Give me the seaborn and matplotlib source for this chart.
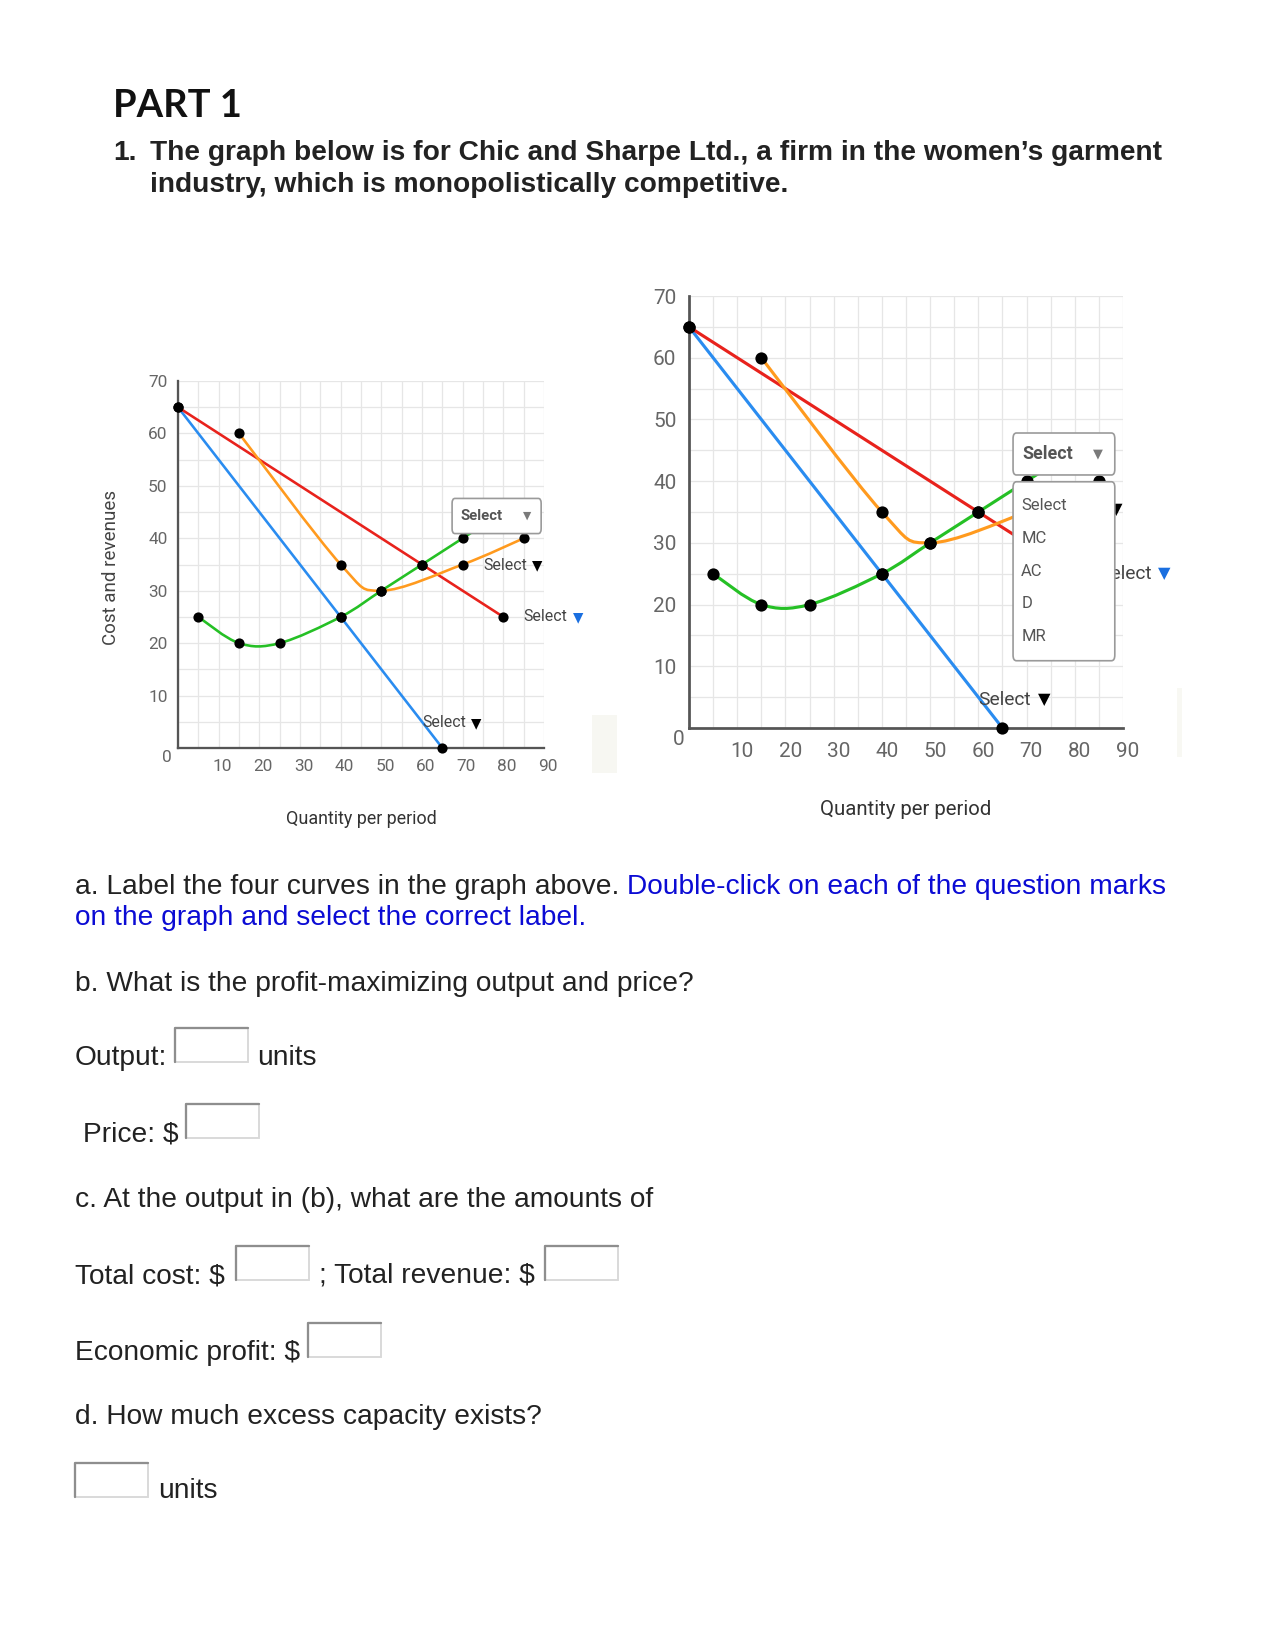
import numpy as np
import pandas as pd
import matplotlib
matplotlib.use('Agg')
import matplotlib.pyplot as plt
import seaborn as sns
from matplotlib.patches import FancyBboxPatch, Rectangle, PathPatch
from matplotlib.path import Path
from matplotlib.lines import Line2D
from matplotlib.transforms import ScaledTranslation

# points: quantity per period vs cost / revenue
d_q = [0, 60, 80]
d_p = [65, 35, 25]
mr_q = [0, 40, 65]
mr_p = [65, 25, 0]
ac_q = [15, 40, 50, 70, 85]
ac_c = [60, 35, 30, 35, 40]
mc_q = [5, 15, 25, 40, 50, 60, 70, 80]
mc_c = [25, 20, 20, 25, 30, 35, 40, 45]
y_ticks = [10, 20, 30, 40, 50, 60, 70]
x_ticks = [10, 20, 30, 40, 50, 60, 70, 80, 90]
menu_items = ['Select', 'MC', 'AC', 'D', 'MR']

RED = '#e8221c'
BLUE = '#2a8cf0'
ORANGE = '#ff9a1e'
GREEN = '#25c025'
TXT = '#222222'
LINK = '#0b0bd4'

W, H = 1275, 1650

sns.set_theme(style='white')
plt.rcParams['font.family'] = ['Roboto', 'DejaVu Sans']

fig = plt.figure(figsize=(8.5, 11), dpi=150)


def smooth_path(xs, ys):
    # catmull-rom through the read points, as bezier segments
    pts = np.column_stack([xs, ys]).astype(float)
    n = len(pts)
    verts = [pts[0]]
    codes = [Path.MOVETO]
    for i in range(n - 1):
        p0 = pts[i - 1] if i > 0 else pts[i]
        p1, p2 = pts[i], pts[i + 1]
        p3 = pts[i + 2] if i + 2 < n else pts[i + 1]
        verts += [p1 + (p2 - p0) / 6, p2 - (p3 - p1) / 6, p2]
        codes += [Path.CURVE4] * 3
    return Path(verts, codes)


def label(ax, x, y, fs, tri_color='black'):
    t = ax.text(x, y, 'Select', fontsize=fs, color='#444444', va='center', ha='left', zorder=8, clip_on=False)
    ax.annotate('\u25bc', xy=(1, 0.5), xycoords=t, xytext=(fs * 0.35, 0), textcoords='offset points',
                fontsize=fs * 0.85, color=tri_color, va='center', ha='left', zorder=8,
                family=['DejaVu Sans'])


def draw_chart(ax, k, box, lab_y, menu=None):
    fs = 8.3 * k
    lw = 1.25 * k
    ax.set_xlim(0, 90)
    ax.set_ylim(0, 70)
    ax.set_xticks(np.arange(0, 91, 5), minor=True)
    ax.set_yticks(np.arange(0, 71, 5), minor=True)
    ax.grid(True, which='both', color='#e6e6e6', lw=0.6, zorder=0)
    ax.set_axisbelow(True)
    ax.set_xticks(x_ticks)
    ax.set_yticks(y_ticks)
    ax.set_xticklabels([str(v) for v in x_ticks])
    ax.set_yticklabels([str(v) for v in y_ticks])
    ax.tick_params(length=0, labelsize=fs, labelcolor='#666666', pad=5 * k)
    ax.tick_params(axis='x', pad=4.5 * k + (1.5 if k > 1.1 else 0.6))
    shift = ScaledTranslation((1.8 if k < 1.1 else 2.3) / 72, 0, fig.dpi_scale_trans)
    for lab in ax.get_xticklabels():
        lab.set_transform(lab.get_transform() + shift)
    for s in ['top', 'right']:
        ax.spines[s].set_visible(False)
    for s in ['left', 'bottom']:
        ax.spines[s].set_color('#555555')
        ax.spines[s].set_linewidth(1.1 * k)
        ax.spines[s].set_zorder(3)
    if k < 1.1:
        zoff = (-5.5, -4.6)
    else:
        zoff = (-5.0, -5.6)
    ax.annotate('0', xy=(0, 0), xytext=zoff, textcoords='offset points',
                fontsize=fs, color='#666666', ha='center', va='center', annotation_clip=False)

    sns.lineplot(x=mr_q, y=mr_p, ax=ax, color=BLUE, lw=lw, zorder=4)
    sns.lineplot(x=d_q, y=d_p, ax=ax, color=RED, lw=lw, zorder=4)
    ax.add_patch(PathPatch(smooth_path(ac_q, ac_c), fill=False, ec=ORANGE, lw=lw, zorder=4))
    ax.add_patch(PathPatch(smooth_path(mc_q, mc_c), fill=False, ec=GREEN, lw=lw, zorder=4))

    dots = pd.DataFrame({'q': d_q + mr_q + ac_q + mc_q, 'v': d_p + mr_p + ac_c + mc_c})
    sns.scatterplot(data=dots, x='q', y='v', ax=ax, color='black', s=24 * k * k, linewidth=0,
                    zorder=5, clip_on=False)
    ax.set_xlabel('')
    ax.set_ylabel('')

    # curve labels
    lfs = fs * 0.92
    label(ax, 60.0, lab_y[0], lfs)
    label(ax, 75.0, lab_y[1], lfs)
    label(ax, 85.0, lab_y[2], lfs, tri_color='#1a6fe0')

    # dropdown box on MC
    bx0, by0, bx1, by1 = box
    ax.add_patch(FancyBboxPatch((bx0, by0), bx1 - bx0, by1 - by0,
                                boxstyle='round,pad=0,rounding_size=0.7',
                                fc='white', ec='#9a9a9a', lw=0.8, zorder=9, clip_on=False,
                                mutation_aspect=1.3))
    ax.text(bx0 + 2.0, (by0 + by1) / 2, 'Select', fontsize=fs * 0.86, fontweight='bold',
            color='#555555', va='center', ha='left', zorder=10)
    ax.text(bx1 - 3.5, (by0 + by1) / 2, '\u25bc', fontsize=fs * 0.62, color='#7a7a7a',
            va='center', ha='center', zorder=10, family=['DejaVu Sans'])

    if menu is not None:
        mx0, my0, mx1, my1 = menu
        ax.add_patch(FancyBboxPatch((mx0, my0), mx1 - mx0, my1 - my0,
                                    boxstyle='round,pad=0,rounding_size=0.7',
                                    fc='white', ec='#9a9a9a', lw=0.8, zorder=9, clip_on=False,
                                    mutation_aspect=1.3))
        edge = 3.9
        step = (my1 - my0 - 2 * edge) / (len(menu_items) - 1)
        for i, item in enumerate(menu_items):
            ax.text(mx0 + 1.7, my1 - edge - step * i, item, fontsize=fs * 0.8,
                    color='#555555', va='center', ha='left', zorder=10)


# left chart
ax1 = fig.add_axes([178 / W, 1 - 748 / H, 366 / W, 367 / H])
draw_chart(ax1, 1.0, (67.4, 40.9, 89.3, 47.6), (4.8, 34.8, 25.0))
ax1.set_ylabel('Cost and revenues', fontsize=9.0, color='#444444')
ax1.yaxis.set_label_coords(-0.158, 0.493)
ax1.set_xlabel('Quantity per period', fontsize=8.6, color='#333333')
ax1.xaxis.set_label_coords(0.5, -0.17)

# right chart
ax2 = fig.add_axes([689 / W, 1 - 728 / H, 434 / W, 432 / H])
draw_chart(ax2, 1.2, (67.2, 41.0, 88.3, 47.8), (4.6, 35.4, 25.0), menu=(67.2, 10.9, 88.3, 39.9))
ax2.set_xlabel('Quantity per period', fontsize=9.8, color='#333333')
ax2.xaxis.set_label_coords(0.499, -0.167)

# faint screenshot edges
fig.add_artist(Rectangle((592 / W, 1 - 773 / H), 25 / W, 58 / H, transform=fig.transFigure,
                         fc='#f7f7f2', ec='none'))
fig.add_artist(Rectangle((1177 / W, 1 - 757 / H), 5 / W, 69 / H, transform=fig.transFigure,
                         fc='#f8f8f3', ec='none'))


def ftext(x, y, s, **kw):
    kw.setdefault('color', TXT)
    kw.setdefault('fontsize', 13.5)
    kw.setdefault('family', ['Liberation Sans', 'DejaVu Sans'])
    fig.text(x / W, 1 - y / H, s, va='baseline', ha='left', **kw)


def answer_box(x0, y0, x1, y1):
    fig.add_artist(Rectangle((x0 / W, 1 - y1 / H), (x1 - x0) / W, (y1 - y0) / H,
                             transform=fig.transFigure, fc='white', ec='#d8d8d8', lw=0.9))
    fig.add_artist(Line2D([x0 / W, x0 / W, x1 / W], [1 - y1 / H, 1 - y0 / H, 1 - y0 / H],
                          transform=fig.transFigure, color='#8e8e8e', lw=1.1))


ftext(113, 117, 'PART 1', fontsize=18.3, fontweight='bold', color='#111111', family=['Lato', 'DejaVu Sans'])
ftext(113, 160, '1.', fontsize=13.5, fontweight='bold')
ftext(150, 160, 'The graph below is for Chic and Sharpe Ltd., a firm in the women\u2019s garment',
      fontsize=13.5, fontweight='bold')
ftext(150, 192, 'industry, which is monopolistically competitive.', fontsize=13.5, fontweight='bold')

ftext(75, 894, 'a. Label the four curves in the graph above.')
ftext(627, 894, 'Double-click on each of the question marks', color=LINK)
ftext(75, 925, 'on the graph and select the correct label.', color=LINK)

ftext(75, 991, 'b. What is the profit-maximizing output and price?')
ftext(75, 1065, 'Output:')
answer_box(175, 1028, 248, 1062)
ftext(257, 1065, 'units')
ftext(83, 1141, 'Price: $')
answer_box(186, 1104, 259, 1138)

ftext(75, 1207, 'c. At the output in (b), what are the amounts of')
ftext(75, 1283, 'Total cost: $')
answer_box(236, 1246, 309, 1280)
ftext(319, 1283, '; Total revenue: $')
answer_box(545, 1246, 618, 1280)
ftext(75, 1360, 'Economic profit: $')
answer_box(308, 1323, 381, 1357)

ftext(75, 1424, 'd. How much excess capacity exists?')
answer_box(75, 1463, 148, 1497)
ftext(158, 1498, 'units')

fig.savefig('out.png', dpi=150, facecolor='white')
